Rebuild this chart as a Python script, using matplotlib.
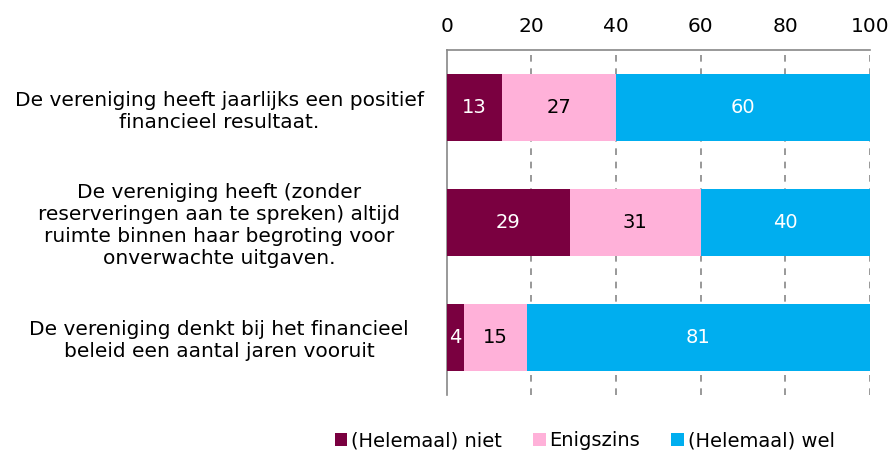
import matplotlib
matplotlib.use("Agg")
import matplotlib.pyplot as plt
import numpy as np

categories = [
    "De vereniging heeft jaarlijks een positief\nfinancieel resultaat.",
    "De vereniging heeft (zonder\nreserveringen aan te spreken) altijd\nruimte binnen haar begroting voor\nonverwachte uitgaven.",
    "De vereniging denkt bij het financieel\nbeleid een aantal jaren vooruit",
]
series_names = ["(Helemaal) niet", "Enigszins", "(Helemaal) wel"]
niet = [13, 29, 4]
enigszins = [27, 31, 15]
wel = [60, 40, 81]
ticks = [0, 20, 40, 60, 80, 100]

colors = ["#7A0040", "#FFB1D9", "#00AEEF"]
text_colors = ["white", "black", "white"]

fig = plt.figure(figsize=(8.92, 4.55), dpi=100)
ax = fig.add_axes([0.501, 0.132, 0.474, 0.758])

y = np.arange(len(categories))
left = np.zeros(len(categories))
for vals, c, tc, name in zip([niet, enigszins, wel], colors, text_colors, series_names):
    ax.barh(y, vals, left=left, height=0.59, color=c, label=name, zorder=3)
    for yi, v, l in zip(y, vals, left):
        ax.text(l + v / 2, yi, str(v), ha="center", va="center", color=tc, fontsize=14, zorder=4)
    left = left + np.array(vals)

ax.set_xlim(0, 100)
ax.set_ylim(2.5, -0.5)
ax.set_xticks(ticks)
ax.xaxis.tick_top()
ax.tick_params(axis="x", length=0, labelsize=14.5, pad=10, colors="black")
ax.set_yticks(y)
ax.set_yticklabels(categories, fontsize=14.5, ha="center", multialignment="center")
ax.tick_params(axis="y", length=0, pad=164)
for xv in ticks[1:]:
    ax.axvline(xv, color="#888888", linestyle=(0, (4, 4)), linewidth=1.2, zorder=1)
for s in ["bottom", "right"]:
    ax.spines[s].set_visible(False)
ax.spines["top"].set_color("#888888")
ax.spines["left"].set_color("#888888")
ax.spines["top"].set_linewidth(1.2)
ax.spines["left"].set_linewidth(1.2)

ax.legend(loc="upper center", bbox_to_anchor=(0.326, -0.105), ncol=3, frameon=False,
          fontsize=14, handlelength=0.65, handleheight=0.65, handletextpad=0.2, columnspacing=1.6,
          borderaxespad=0, borderpad=0)

fig.savefig("out.png", dpi=100)
